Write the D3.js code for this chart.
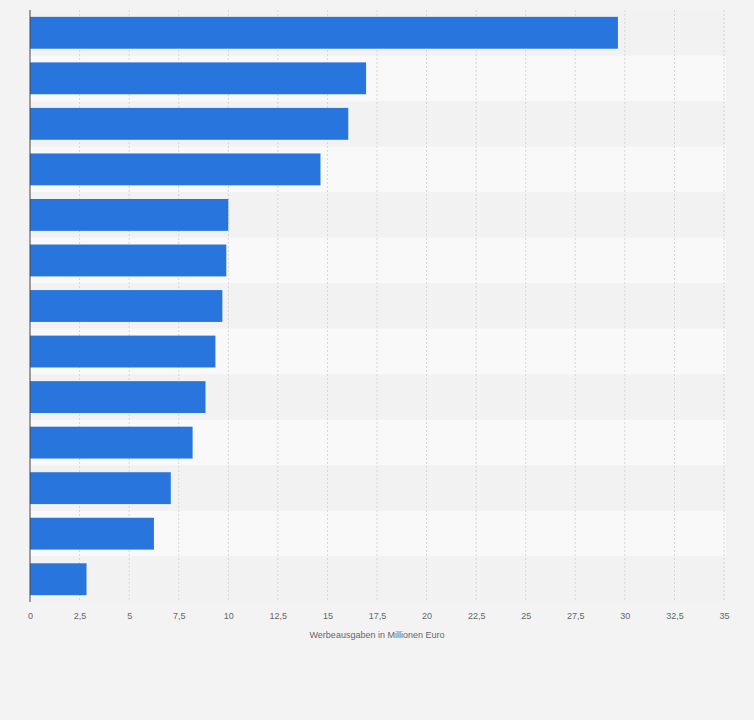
<!DOCTYPE html>
<html>
<head>
<meta charset="utf-8">
<script src="https://cdn.jsdelivr.net/npm/d3@7"></script>
<style>
body{margin:0;background:#f3f3f3;font-family:"Liberation Sans",Arial,sans-serif;}
</style>
</head>
<body>
<svg id="chart" width="754" height="720"></svg>
<script>
var categories = ['A','B','C','D','E','F','G','H','I','J','K','L','M'];
var values = [29.65, 16.95, 16.05, 14.65, 10.0, 9.9, 9.7, 9.35, 8.85, 8.2, 7.1, 6.25, 2.85];
var ticks = [0, 2.5, 5, 7.5, 10, 12.5, 15, 17.5, 20, 22.5, 25, 27.5, 30, 32.5, 35];
var axisTitle = 'Werbeausgaben in Millionen Euro';

var svg = d3.select('#chart');
var plotLeft = 30, plotRight = 724, plotTop = 10, plotBottom = 602;

var x = d3.scaleLinear().domain([0, 35]).range([plotLeft, plotRight]);
var y = d3.scaleBand().domain(categories).range([plotTop, plotBottom]).paddingInner(0.3).paddingOuter(0.15);
var band = d3.scaleBand().domain(categories).range([plotTop, plotBottom]);

svg.append('rect').attr('x', 0).attr('y', 0).attr('width', 754).attr('height', 720).attr('fill', '#f3f3f3');

svg.selectAll('rect.row').data(categories).enter().append('rect')
	.attr('class', 'row')
	.attr('x', plotLeft).attr('width', plotRight - plotLeft + 2)
	.attr('y', function(d){ return band(d); })
	.attr('height', band.bandwidth())
	.attr('fill', function(d, i){ return i % 2 ? '#f9f9f9' : '#f2f2f2'; });

svg.selectAll('line.grid').data(ticks.slice(1)).enter().append('line')
	.attr('class', 'grid')
	.attr('x1', function(d){ return x(d); }).attr('x2', function(d){ return x(d); })
	.attr('y1', plotTop).attr('y2', plotBottom)
	.attr('stroke', '#d6d6d6').attr('stroke-dasharray', '2,2');

svg.selectAll('rect.bar').data(values).enter().append('rect')
	.attr('class', 'bar')
	.attr('x', x(0))
	.attr('y', function(d, i){ return y(categories[i]); })
	.attr('width', function(d){ return x(d) - x(0); })
	.attr('height', y.bandwidth())
	.attr('fill', '#2876dd');

svg.append('line').attr('x1', plotLeft).attr('x2', plotLeft).attr('y1', plotTop).attr('y2', plotBottom)
	.attr('stroke', '#444').attr('stroke-width', 1);

var axis = d3.axisBottom(x).tickValues(ticks).tickSize(0)
	.tickFormat(function(d){ return String(d).replace('.', ','); });
var g = svg.append('g').attr('transform', 'translate(0,' + (plotBottom + 8) + ')').call(axis);
g.select('.domain').remove();
g.selectAll('text').attr('fill', '#666').style('font-size', '9px');

svg.append('text').attr('x', x(17.5)).attr('y', 638).attr('text-anchor', 'middle')
	.attr('fill', '#666').style('font-size', '9px').text(axisTitle);
</script>
</body>
</html>
